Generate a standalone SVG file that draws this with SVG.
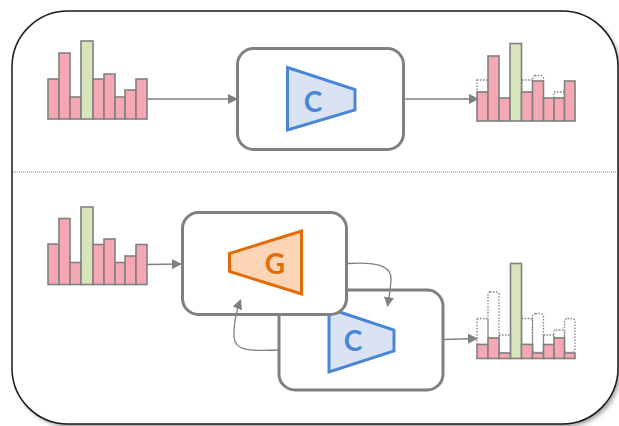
<svg xmlns="http://www.w3.org/2000/svg" width="619" height="426" viewBox="0 0 619 426">
<defs>
<marker id="ah" viewBox="0 0 10 10" refX="9" refY="5" markerWidth="10" markerHeight="10" markerUnits="userSpaceOnUse" orient="auto">
<path d="M0,0 L10,5 L0,10 Z" fill="#808080"/>
</marker>
<filter id="sh" x="-5%" y="-5%" width="110%" height="110%">
<feGaussianBlur stdDeviation="2"/>
</filter>
</defs>
<style>
.box{fill:#ffffff;stroke:#808080;stroke-width:3}
.bar{fill:#f5a8b3;stroke:#808080;stroke-width:1.6}
.gbar{fill:#d8e4bc;stroke:#808080;stroke-width:1.6}
.dot{fill:none;stroke:#808080;stroke-width:1.3;stroke-dasharray:1.5 1.5}
.conn{fill:none;stroke:#808080;stroke-width:1.3}
.ctrap{fill:#dae3f3;stroke:#4a86d8;stroke-width:3;stroke-linejoin:miter}
.gtrap{fill:#fbd5b6;stroke:#e36c0a;stroke-width:3;stroke-linejoin:miter}
.lbl{font-family:Lato,"Open Sans",sans-serif;font-weight:bold;font-size:28px;text-anchor:middle;dominant-baseline:central}
</style>
<rect x="14.5" y="14" width="606" height="413" rx="56" fill="#a0a0a0" filter="url(#sh)"/>
<rect x="12" y="11" width="606" height="413" rx="56" fill="#ffffff" stroke="#1a1a1a" stroke-width="1.5"/>
<line x1="13" y1="172" x2="619" y2="172" stroke="#808080" stroke-width="1" stroke-dasharray="1 1"/>

<g id="hist-in-top">
<rect class="bar" x="48" y="79" width="11" height="40"/>
<rect class="bar" x="59" y="53" width="11" height="66"/>
<rect class="bar" x="70" y="97" width="11" height="22"/>
<rect class="gbar" x="81" y="41" width="12" height="78"/>
<rect class="bar" x="93" y="79" width="11" height="40"/>
<rect class="bar" x="104" y="74" width="11" height="45"/>
<rect class="bar" x="115" y="97" width="10" height="22"/>
<rect class="bar" x="125" y="90" width="11" height="29"/>
<rect class="bar" x="136" y="79" width="11" height="40"/>
</g>

<g id="hist-out-top">
<rect class="dot" x="477" y="80" width="11" height="12"/>
<rect class="dot" x="522" y="80" width="11" height="12"/>
<rect class="dot" x="533" y="75.5" width="10.5" height="6" rx="2"/>
<rect class="dot" x="554" y="92" width="10.5" height="6"/>
<rect class="bar" x="477" y="92" width="11" height="29"/>
<rect class="bar" x="488" y="56" width="11" height="65"/>
<rect class="bar" x="499" y="98" width="11" height="23"/>
<rect class="gbar" x="510" y="43.5" width="11.5" height="77.5"/>
<rect class="bar" x="521.5" y="92" width="11" height="29"/>
<rect class="bar" x="532.5" y="81" width="11" height="40"/>
<rect class="bar" x="543.5" y="98" width="10.5" height="23"/>
<rect class="bar" x="554" y="98" width="10.5" height="23"/>
<rect class="bar" x="564.5" y="81" width="10.5" height="40"/>
</g>

<g id="hist-in-bottom">
<rect class="bar" x="48" y="244" width="11" height="40.5"/>
<rect class="bar" x="59" y="218.5" width="11" height="66"/>
<rect class="bar" x="70" y="262.5" width="11" height="22"/>
<rect class="gbar" x="81" y="207" width="12" height="77.5"/>
<rect class="bar" x="93" y="244.5" width="11" height="40"/>
<rect class="bar" x="104" y="239" width="11" height="45.5"/>
<rect class="bar" x="115" y="262.5" width="10" height="22"/>
<rect class="bar" x="125" y="256" width="11" height="28.5"/>
<rect class="bar" x="136" y="244.5" width="11" height="40"/>
</g>

<g id="hist-out-bottom">
<rect class="dot" x="477" y="318.5" width="11" height="26"/>
<rect class="dot" x="488" y="292" width="11" height="46" rx="2"/>
<rect class="dot" x="499" y="335" width="11.5" height="18"/>
<rect class="dot" x="521.5" y="318.5" width="11" height="26"/>
<rect class="dot" x="532.5" y="313.5" width="11" height="39" rx="3"/>
<rect class="dot" x="543.5" y="335" width="10.5" height="10"/>
<rect class="dot" x="554" y="330" width="10.5" height="8" rx="2"/>
<rect class="dot" x="564.5" y="318.5" width="10.5" height="34" rx="3"/>
<rect class="bar" x="477" y="344.5" width="11" height="14"/>
<rect class="bar" x="488" y="338" width="11" height="20.5"/>
<rect class="bar" x="499" y="353" width="11.5" height="5.5"/>
<rect class="gbar" x="510.5" y="263.5" width="11" height="95"/>
<rect class="bar" x="521.5" y="344.5" width="11" height="14"/>
<rect class="bar" x="532.5" y="353" width="11" height="5.5"/>
<rect class="bar" x="543.5" y="344.5" width="10.5" height="14"/>
<rect class="bar" x="554" y="338" width="10.5" height="20.5"/>
<rect class="bar" x="564.5" y="353" width="10.5" height="5.5"/>
</g>

<g id="classifier-top">
<rect class="box" x="237.5" y="48.5" width="166" height="101" rx="16"/>
<path class="ctrap" d="M287.5,67.5 L355,89.5 L355,110 L287.5,130 Z"/>
<text class="lbl" x="313" y="101" fill="#4a86d8">C</text>
</g>

<g id="classifier-bottom">
<rect class="box" x="279" y="290" width="164" height="100" rx="16"/>
<path class="ctrap" d="M329,308.5 L394,330 L394,351 L329,372 Z"/>
<text class="lbl" x="353" y="340" fill="#4a86d8">C</text>
</g>

<g id="generator">
<rect class="box" x="182.5" y="212.5" width="164" height="102" rx="16"/>
<path class="gtrap" d="M229.5,253.5 L301.5,231 L301.5,294 L229.5,271.5 Z"/>
<text class="lbl" x="275" y="263" fill="#e36c0a">G</text>
</g>

<g id="connectors">
<line class="conn" x1="147" y1="99" x2="237" y2="99" marker-end="url(#ah)"/>
<line class="conn" x1="404" y1="99" x2="478" y2="99" marker-end="url(#ah)"/>
<line class="conn" x1="147" y1="264.5" x2="181" y2="264" marker-end="url(#ah)"/>
<line class="conn" x1="444" y1="339.5" x2="477" y2="338.5" marker-end="url(#ah)"/>
<path class="conn" d="M348,263.5 C372,262 392,264 391,280 C390.5,290 389,297 387.5,306" marker-end="url(#ah)"/>
<path class="conn" d="M279,350 C248,351 235,351 234,337 C233.5,325 236,312 240.5,300" marker-end="url(#ah)"/>
</g>
</svg>
